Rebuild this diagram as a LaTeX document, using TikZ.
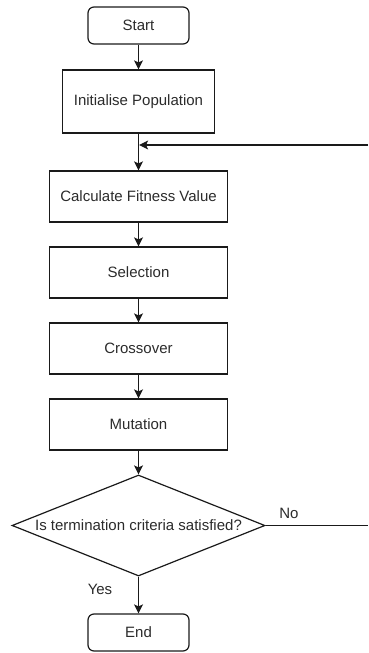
\documentclass[tikz,border=0pt]{standalone}
\usepackage{fontspec}
\setmainfont{Liberation Sans}
\usetikzlibrary{shapes.geometric,arrows.meta}
\definecolor{ink}{HTML}{1A1A1A}
\definecolor{txt}{HTML}{2B2B2B}
\begin{document}
\begin{tikzpicture}[x=1pt,y=-1pt,
  every node/.style={font=\fontsize{15}{18}\selectfont, text=txt},
  procbox/.style={draw=ink, line width=1.2pt, rectangle, inner sep=0pt, minimum width=178pt, minimum height=51pt},
  termbox/.style={draw=ink, line width=1.2pt, rectangle, rounded corners=6pt, inner sep=0pt, minimum width=101pt, minimum height=37pt},
  decbox/.style={draw=ink, line width=1.2pt, diamond, aspect=2.5, inner sep=-5pt, minimum width=253pt, minimum height=101pt},
  flow/.style={draw=ink, line width=1.2pt, -{Stealth[length=9pt,width=9pt,inset=2pt]}},
  plain/.style={draw=ink, line width=1.2pt}
]
\useasboundingbox (0,0) rectangle (368,653);
\node[termbox] (start) at (138.5,25.5) {Start};
\node[procbox, minimum width=152pt, minimum height=63pt] (init) at (138.5,101.5) {Initialise Population};
\node[procbox] (calc) at (138.5,196.5) {Calculate Fitness Value};
\node[procbox] (sel) at (138.5,272.5) {Selection};
\node[procbox] (cross) at (138.5,348.5) {Crossover};
\node[procbox] (mut) at (138.5,424.5) {Mutation};
\node[decbox] (dec) at (138.5,525.5) {Is termination criteria satisfied?};
\node[termbox] (end) at (138.5,632.5) {End};
\node (no) at (289,513.5) {No};
\node (yes) at (100,589.5) {Yes};
\coordinate (noend) at (368,525.5);
\coordinate (loopstart) at (368,145);
\coordinate (join) at (139.1,145);
\draw[flow] (start) -- (init);
\draw[flow] (init) -- (calc);
\draw[flow] (calc) -- (sel);
\draw[flow] (sel) -- (cross);
\draw[flow] (cross) -- (mut);
\draw[flow] (mut) -- (dec);
\draw[flow] (dec) -- (end);
\draw[plain] (dec.east) -- (noend);
\draw[flow] (loopstart) -- (join);
\end{tikzpicture}
\end{document}
